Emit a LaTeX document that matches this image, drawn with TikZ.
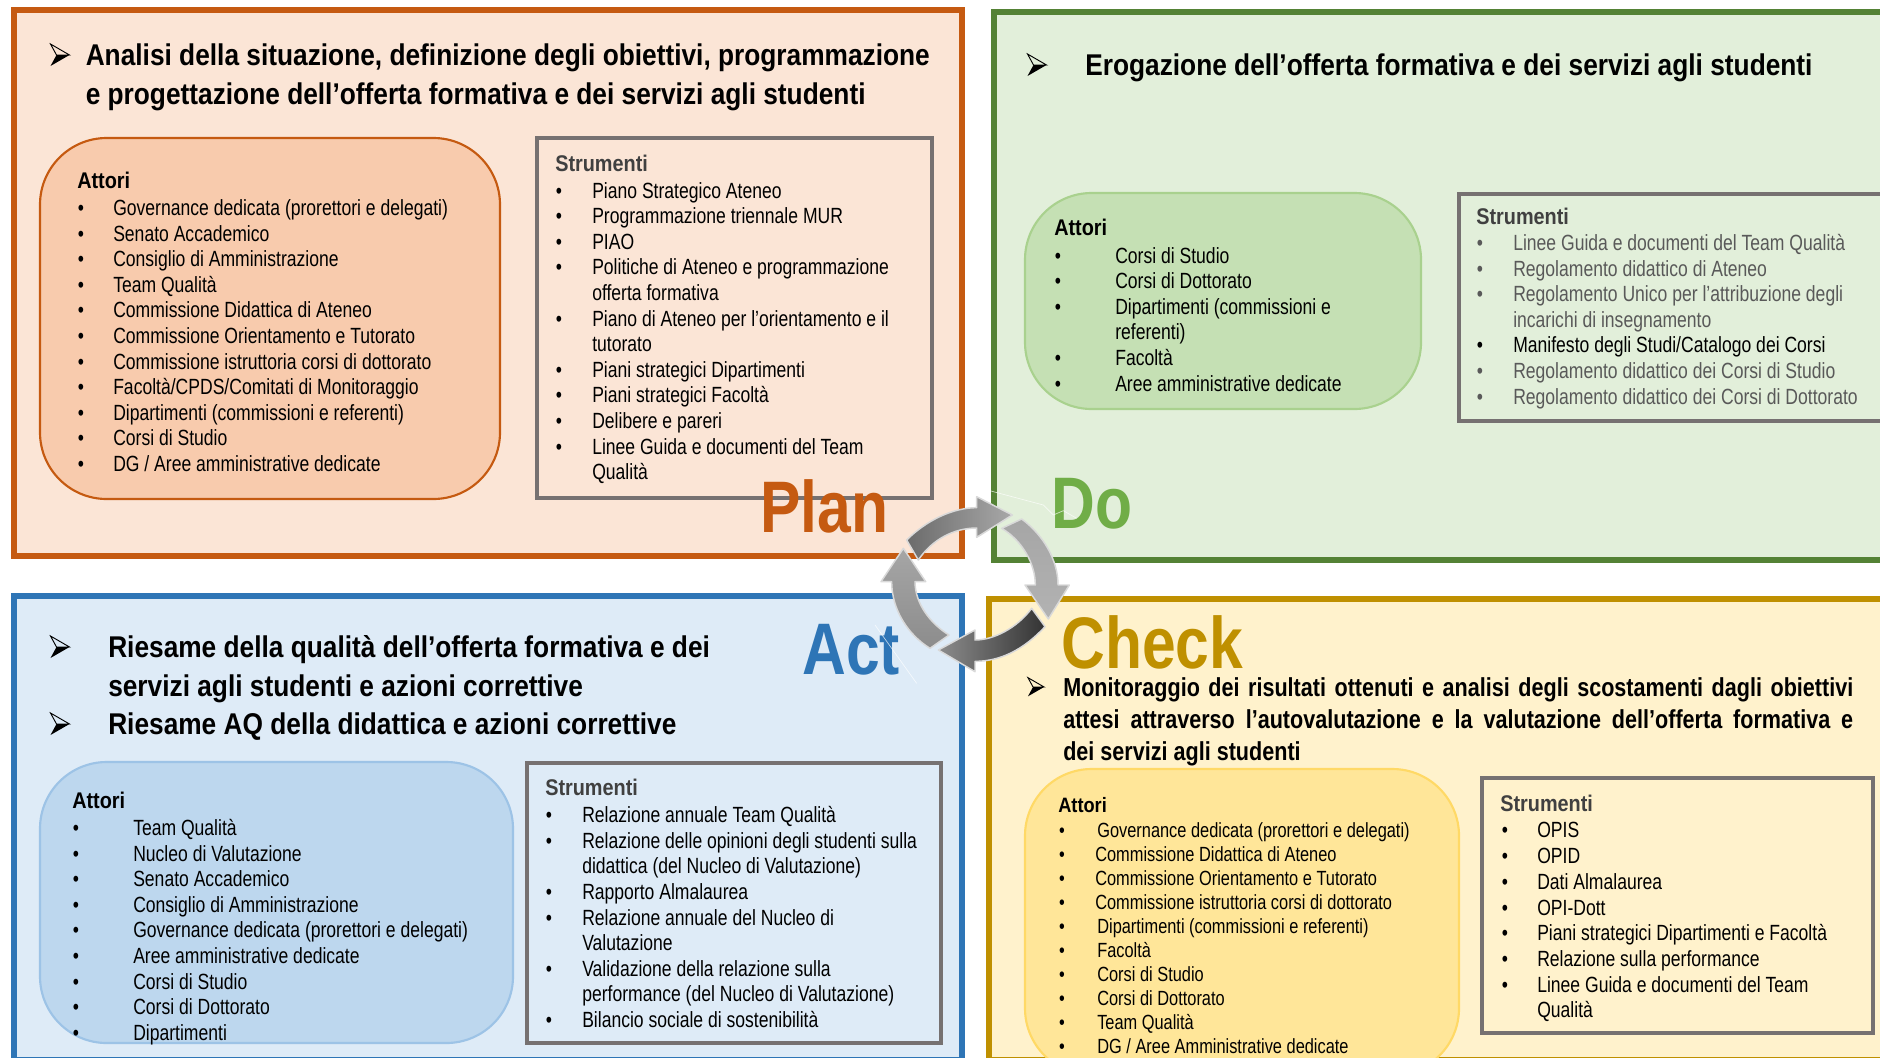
\documentclass[tikz,border=0pt]{standalone}
\usepackage{fontspec}
\setmainfont{Liberation Sans}[FakeStretch=0.798]
\newfontfamily\headfont{Liberation Sans}[FakeStretch=0.876]
\newfontfamily\pdcafont{Liberation Sans}[FakeStretch=0.83]
\definecolor{planB}{HTML}{C55A11}\definecolor{planF}{HTML}{FBE5D6}\definecolor{planA}{HTML}{F8CBAD}
\definecolor{doB}{HTML}{548235}\definecolor{doF}{HTML}{E2EFDA}\definecolor{doA}{HTML}{C5E0B4}\definecolor{doE}{HTML}{A9D18E}\definecolor{doT}{HTML}{70AD47}
\definecolor{actB}{HTML}{2E75B6}\definecolor{actF}{HTML}{DEEBF7}\definecolor{actA}{HTML}{BDD7EE}\definecolor{actE}{HTML}{9DC3E6}
\definecolor{chkB}{HTML}{BF9000}\definecolor{chkF}{HTML}{FFF2CC}\definecolor{chkA}{HTML}{FFE699}\definecolor{chkE}{HTML}{FFD966}
\definecolor{strE}{HTML}{767171}
\tikzset{
  panel/.style={line width=4.5pt,miter limit=10},
  actorbox/.style={line width=1.6pt,rounded corners=50pt},
  toolbox/.style={draw=strE,line width=3.2pt},
  txt/.style={anchor=base west,inner sep=0pt,font=\fontsize{16.5pt}{18pt}\selectfont},
  smalltxt/.style={font=\fontsize{15.4pt}{18pt}\selectfont},
  bul/.style={anchor=base,inner sep=0pt,font=\fontsize{16.5pt}{18pt}\selectfont},
  hdr/.style={anchor=base west,inner sep=0pt,font=\headfont\fontsize{17pt}{18pt}\selectfont\bfseries},
  headline/.style={anchor=base west,inner sep=0pt,font=\headfont\fontsize{22.5pt}{24pt}\selectfont\bfseries},
  headlines/.style={anchor=base west,inner sep=0pt,font=\pdcafont\fontsize{19.5pt}{24pt}\selectfont\bfseries},
  pdca/.style={anchor=base west,inner sep=0pt,font=\pdcafont\fontsize{54.75pt}{56pt}\selectfont\bfseries},
  cyc/.style={draw=black!15,line width=1.1pt,line join=round},
  stray/.style={draw=white,line width=.5pt,opacity=.7},
  markline/.style={draw=black,line width=.7pt,line join=miter,fill=none},
}
\newcounter{lin}
\newcommand\litem[5][]{\stepcounter{lin}\node[bul,#1] (b\thelin) at (#2,#4) {•};\node[txt,#1] (t\thelin) at (#3,#4) {#5};}
\newcommand\lcont[4][]{\stepcounter{lin}\node[txt,#1] (t\thelin) at (#2,#3) {#4};}
% arrow-head bullet: centre x, centre y, scale
\newcommand\amark[3]{\begin{scope}[shift={(#1,#2)},scale=#3]
\draw[markline] (-9.5,-11) -- (9.5,0) -- (-3.5,0) -- cycle;
\fill[black] (9.5,0) -- (-9.5,11) -- (-3.5,0) -- cycle;
\end{scope}}
\begin{document}
\begin{tikzpicture}[x=.75pt,y=-.75pt]
\path[use as bounding box,clip] (0,0) rectangle (1880,1057);
\fill[white] (0,0) rectangle (1880,1057);
% panels
\draw[panel,draw=planB,fill=planF] (14,9.5) rectangle (962,556);
\draw[panel,draw=doB,fill=doF] (994,12) rectangle (1890,560);
\draw[panel,draw=actB,fill=actF] (14,596) rectangle (962,1060);
\draw[panel,draw=chkB,fill=chkF] (989,599) rectangle (1890,1060);
% PLAN
\amark{60}{55}{1}
\node[headline] (hp1) at (85.5,65) {Analisi della situazione, definizione degli obiettivi, programmazione};
\node[headline] (hp2) at (85.5,104) {e progettazione dell’offerta formativa e dei servizi agli studenti};
\draw[actorbox,draw=planB,fill=planA] (40,138) rectangle (500,499);
\draw[toolbox] (537,138) rectangle (932,498);
\node[hdr] (pa) at (77,188) {Attori};
\litem{81}{113}{215}{Governance dedicata (prorettori e delegati)}
\litem{81}{113}{241}{Senato Accademico}
\litem{81}{113}{266}{Consiglio di Amministrazione}
\litem{81}{113}{292}{Team Qualità}
\litem{81}{113}{317}{Commissione Didattica di Ateneo}
\litem{81}{113}{343}{Commissione Orientamento e Tutorato}
\litem{81}{113}{369}{Commissione istruttoria corsi di dottorato}
\litem{81}{113}{394}{Facoltà/CPDS/Comitati di Monitoraggio}
\litem{81}{113}{420}{Dipartimenti (commissioni e referenti)}
\litem{81}{113}{445}{Corsi di Studio}
\litem{81}{113}{471}{DG / Aree amministrative dedicate}
\node[hdr,text=black!75] (ps) at (555,171) {Strumenti};
\litem{559}{592}{198}{Piano Strategico Ateneo}
\litem{559}{592}{223}{Programmazione triennale MUR}
\litem{559}{592}{249}{PIAO}
\litem{559}{592}{274}{Politiche di Ateneo e programmazione}
\lcont{592}{300}{offerta formativa}
\litem{559}{592}{326}{Piano di Ateneo per l’orientamento e il}
\lcont{592}{351}{tutorato}
\litem{559}{592}{377}{Piani strategici Dipartimenti}
\litem{559}{592}{402}{Piani strategici Facoltà}
\litem{559}{592}{428}{Delibere e pareri}
\litem{559}{592}{454}{Linee Guida e documenti del Team}
\lcont{592}{479}{Qualità}
\node[pdca,text=planB] (plan) at (760,532) {Plan};
% DO
\amark{1037}{65}{1}
\node[headline] (hd1) at (1085,75) {Erogazione dell’offerta formativa e dei servizi agli studenti};
\draw[actorbox,draw=doE,fill=doA] (1025,193) rectangle (1421,409);
\draw[toolbox] (1459,194) rectangle (1890,421);
\node[hdr] (da) at (1054,235) {Attori};
\litem{1058}{1115}{263}{Corsi di Studio}
\litem{1058}{1115}{288}{Corsi di Dottorato}
\litem{1058}{1115}{314}{Dipartimenti (commissioni e}
\lcont{1115}{339}{referenti)}
\litem{1058}{1115}{365}{Facoltà}
\litem{1058}{1115}{391}{Aree amministrative dedicate}
\node[hdr,text=black!75] (ds) at (1476,224) {Strumenti};
\litem[text=black!65]{1480}{1513}{250}{Linee Guida e documenti del Team Qualità}
\litem[text=black!65]{1480}{1513}{276}{Regolamento didattico di Ateneo}
\litem[text=black!65]{1480}{1513}{301}{Regolamento Unico per l’attribuzione degli}
\lcont[text=black!65]{1513}{327}{incarichi di insegnamento}
\litem{1480}{1513}{352}{Manifesto degli Studi/Catalogo dei Corsi}
\litem[text=black!65]{1480}{1513}{378}{Regolamento didattico dei Corsi di Studio}
\litem[text=black!65]{1480}{1513}{404}{Regolamento didattico dei Corsi di Dottorato}
\node[pdca,text=doT] (do) at (1051,528) {Do};
% ACT
\amark{60}{647}{1}
\amark{60}{724}{1}
\node[headline] (ha1) at (108,657) {Riesame della qualità dell’offerta formativa e dei};
\node[headline] (ha2) at (108,696) {servizi agli studenti e azioni correttive};
\node[headline] (ha3) at (108,734) {Riesame AQ della didattica e azioni correttive};
\draw[actorbox,draw=actE,fill=actA] (40,762) rectangle (513,1043);
\draw[toolbox] (527,763) rectangle (941,1043);
\node[hdr] (aa) at (72,808) {Attori};
\litem{76}{133}{835}{Team Qualità}
\litem{76}{133}{861}{Nucleo di Valutazione}
\litem{76}{133}{886}{Senato Accademico}
\litem{76}{133}{912}{Consiglio di Amministrazione}
\litem{76}{133}{937}{Governance dedicata (prorettori e delegati)}
\litem{76}{133}{963}{Aree amministrative dedicate}
\litem{76}{133}{989}{Corsi di Studio}
\litem{76}{133}{1014}{Corsi di Dottorato}
\litem{76}{133}{1040}{Dipartimenti}
\node[hdr,text=black!75] (as) at (545,795) {Strumenti};
\litem{549}{582}{822}{Relazione annuale Team Qualità}
\litem{549}{582}{848}{Relazione delle opinioni degli studenti sulla}
\lcont{582}{873}{didattica (del Nucleo di Valutazione)}
\litem{549}{582}{899}{Rapporto Almalaurea}
\litem{549}{582}{925}{Relazione annuale del Nucleo di}
\lcont{582}{950}{Valutazione}
\litem{549}{582}{976}{Validazione della relazione sulla}
\lcont{582}{1001}{performance (del Nucleo di Valutazione)}
\litem{549}{582}{1027}{Bilancio sociale di sostenibilità}
\node[pdca,text=actB] (act) at (802,674) {Act};
% CHECK
\node[pdca,text=chkB] (check) at (1061,668) {Check};
\amark{1036}{687}{.85}
\node[headlines] (hc1) at (1063,696) {\makebox[592.5pt][s]{Monitoraggio dei risultati ottenuti e analisi degli scostamenti dagli obiettivi}};
\node[headlines] (hc2) at (1063,728) {\makebox[592.5pt][s]{attesi attraverso l’autovalutazione e la valutazione dell’offerta formativa e}};
\node[headlines] (hc3) at (1063,760) {dei servizi agli studenti};
\draw[actorbox,draw=chkE,fill=chkA] (1025,769) rectangle (1459,1075);
\draw[toolbox] (1482,778) rectangle (1873,1033);
\node[hdr,font=\headfont\fontsize{15.6pt}{18pt}\selectfont\bfseries] (ca) at (1058,812) {Attori};
\litem[smalltxt]{1062}{1097}{837}{Governance dedicata (prorettori e delegati)}
\litem[smalltxt]{1062}{1095}{861}{Commissione Didattica di Ateneo}
\litem[smalltxt]{1062}{1095}{885}{Commissione Orientamento e Tutorato}
\litem[smalltxt]{1062}{1095}{909}{Commissione istruttoria corsi di dottorato}
\litem[smalltxt]{1062}{1097}{933}{Dipartimenti (commissioni e referenti)}
\litem[smalltxt]{1062}{1097}{957}{Facoltà}
\litem[smalltxt]{1062}{1097}{981}{Corsi di Studio}
\litem[smalltxt]{1062}{1097}{1005}{Corsi di Dottorato}
\litem[smalltxt]{1062}{1097}{1029}{Team Qualità}
\litem[smalltxt]{1062}{1097}{1053}{DG / Aree Amministrative dedicate}
\node[hdr,text=black!75] (cs) at (1500,811) {Strumenti};
\litem{1505}{1537}{837}{OPIS}
\litem{1505}{1537}{863}{OPID}
\litem{1505}{1537}{889}{Dati Almalaurea}
\litem{1505}{1537}{915}{OPI-Dott}
\litem{1505}{1537}{940}{Piani strategici Dipartimenti e Facoltà}
\litem{1505}{1537}{966}{Relazione sulla performance}
\litem{1505}{1537}{992}{Linee Guida e documenti del Team}
\lcont{1537}{1017}{Qualità}
% cycle (coordinates in thirds of a pixel)
\begin{scope}[shift={(780,440)},x=.25pt,y=-.25pt]
\draw[cyc,left color=black!58,right color=black!34] (380,300) .. controls (440,240) and (520,203) .. (590,203) -- (590,170) -- (697,225) -- (590,292) -- (590,264) .. controls (520,264) and (455,300) .. (415,360) -- cycle;
\draw[cyc,top color=black!35,bottom color=black!30] (725,237) .. controls (790,285) and (834,360) .. (834,435) -- (868,435) -- (805,537) -- (735,435) -- (766,435) .. controls (766,370) and (725,300) .. (665,265) -- cycle;
\draw[cyc,right color=black!80,left color=black!45] (795,560) .. controls (730,630) and (660,664) .. (585,664) -- (585,695) -- (475,630) -- (585,570) -- (585,600) .. controls (640,600) and (710,565) .. (755,505) -- cycle;
\draw[cyc,top color=black!35,bottom color=black!45] (450,625) .. controls (385,585) and (335,510) .. (335,425) -- (303,425) -- (370,325) -- (437,425) -- (405,425) .. controls (405,490) and (450,550) .. (507,585) -- cycle;
\draw[stray] (555,130) -- (640,155) -- (790,195) -- (820,225) -- (850,212) -- (890,235);
\draw[stray] (285,555) -- (410,730);
\end{scope}
\end{tikzpicture}
\end{document}
